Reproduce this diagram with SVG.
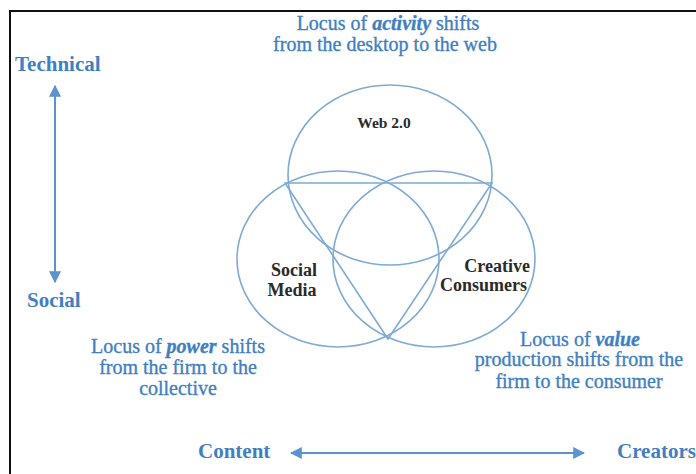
<svg xmlns="http://www.w3.org/2000/svg" width="696" height="474" viewBox="0 0 696 474">
  <style>
    .lbl { font-family: "Liberation Serif", "DejaVu Serif", serif; fill: #3f7fc2; stroke: #3f7fc2; stroke-width: 0.35; font-size: 20px; text-anchor: middle; }
    .axis { font-family: "Liberation Serif", "DejaVu Serif", serif; fill: #3f7fc2; font-size: 21px; font-weight: bold; }
    .node { font-family: "Liberation Serif", "DejaVu Serif", serif; fill: #2a2a2a; font-size: 18px; font-weight: bold; }
    .ring { fill: none; stroke: #7eaad4; stroke-width: 1.6; }
    .arr { fill: none; stroke: #5b93cc; stroke-width: 2; }
    .em { font-style: italic; font-weight: bold; }
  </style>
  <defs>
    <marker id="head" viewBox="0 0 10 10" refX="9" refY="5" markerWidth="6" markerHeight="6" orient="auto-start-reverse">
      <path d="M0,0 L10,5 L0,10 z" fill="#5b93cc"/>
    </marker>
  </defs>

  <rect width="696" height="474" fill="#ffffff"/>
  <!-- frame -->
  <path d="M10,474 V11 H696" fill="none" stroke="#111" stroke-width="2"/>

  <!-- overlapping circles and triangle -->
  <g id="web20">
    <ellipse class="ring" cx="390" cy="175" rx="102" ry="90"/>
    <text class="node" x="384" y="128" text-anchor="middle" style="font-size:15.5px">Web 2.0</text>
  </g>
  <g id="social-media">
    <ellipse class="ring" cx="338" cy="259" rx="101" ry="88"/>
    <text class="node" x="294" y="276" text-anchor="middle">Social</text>
    <text class="node" x="292" y="296" text-anchor="middle">Media</text>
  </g>
  <g id="creative-consumers">
    <ellipse class="ring" cx="434" cy="259" rx="101" ry="88"/>
    <text class="node" x="530" y="272" text-anchor="end">Creative</text>
    <text class="node" x="527" y="291" text-anchor="end">Consumers</text>
  </g>
  <g id="triangle">
    <polygon class="ring" points="285,183 492,183 388,339"/>
  </g>

  <!-- locus captions -->
  <g id="activity">
    <text class="lbl" x="388" y="30">Locus of <tspan class="em">activity</tspan> shifts</text>
    <text class="lbl" x="385" y="51">from the desktop to the web</text>
  </g>
  <g id="power">
    <text class="lbl" x="178" y="353">Locus of <tspan class="em">power</tspan> shifts</text>
    <text class="lbl" x="178" y="374">from the firm to the</text>
    <text class="lbl" x="178" y="395">collective</text>
  </g>
  <g id="value">
    <text class="lbl" x="580" y="346">Locus of <tspan class="em">value</tspan></text>
    <text class="lbl" x="579" y="366">production shifts from the</text>
    <text class="lbl" x="579" y="388">firm to the consumer</text>
  </g>

  <!-- axes -->
  <g id="axis-technical">
    <text class="axis" x="15" y="71">Technical</text>
  </g>
  <g id="axis-social">
    <text class="axis" x="27" y="307">Social</text>
  </g>
  <g id="axis-content">
    <text class="axis" x="198" y="458">Content</text>
  </g>
  <g id="axis-creators">
    <text class="axis" x="617" y="458">Creators</text>
  </g>
  <g id="connectors">
    <line class="arr" x1="55" y1="86" x2="55" y2="282" marker-start="url(#head)" marker-end="url(#head)"/>
    <line class="arr" x1="291" y1="453" x2="584" y2="453" marker-start="url(#head)" marker-end="url(#head)"/>
  </g>
</svg>
